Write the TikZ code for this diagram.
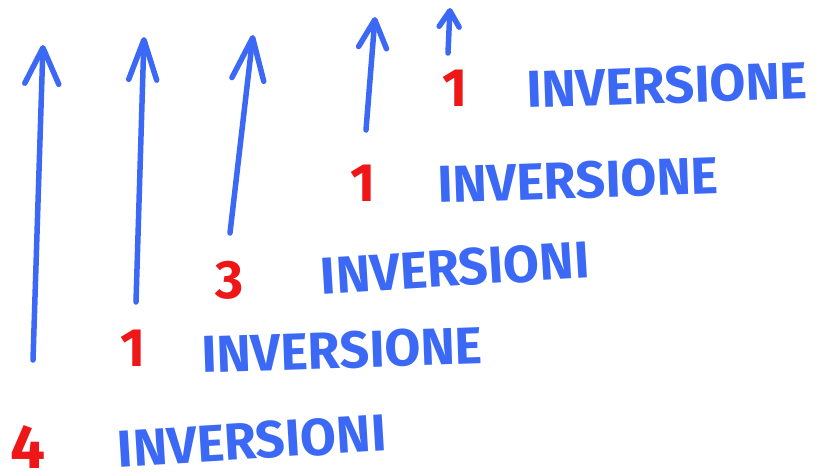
\documentclass[tikz,border=0pt]{standalone}
\usepackage{fontspec}
\setmainfont{Fira Sans}
\usetikzlibrary{arrows.meta}
\definecolor{penblue}{RGB}{59,105,245}
\definecolor{penred}{RGB}{238,22,22}
\tikzset{
  shaft/.style={penblue, line width=5.5pt, line cap=round},
  word/.style={penblue, font=\bfseries\fontsize{52}{60}\selectfont, inner sep=0pt},
  count/.style={penred, font=\bfseries\fontsize{54}{60}\selectfont, inner sep=0pt},
}
\begin{document}
\begin{tikzpicture}[x=1pt, y=-1pt]
  \useasboundingbox (0,0) rectangle (823,475);
  % frecce, dal basso verso l'alto
  \foreach \n/\xa/\ya/\xb/\yb/\hl/\hw in {1/33/360/43/45/36pt/34pt,
      2/136/302/144/37/40pt/28pt, 3/230/233/253/35/42pt/32pt,
      4/366/130/375/17/28pt/28pt, 5/448/53/450/8/16pt/20pt}{
    \coordinate (b\n) at (\xa,\ya);
    \coordinate (t\n) at (\xb,\yb);
    \draw[shaft, -{Straight Barb[length=\hl, width=\hw, line cap=round, line join=round]}] (b\n) -- (t\n);
  }
  % numeri rossi
  \node[count, font=\bfseries\fontsize{62}{70}\selectfont] (n1) at (28,447) {4};
  \node[count] (n2) at (133,348) {1};
  \node[count] (n3) at (230,280) {3};
  \node[count] (n4) at (363,183) {1};
  \node[count] (n5) at (455,88) {1};
  % scritte
  \node[word, rotate=3.5] (w1) at (252,441) {INVERSIONI};
  \node[word, rotate=2] (w2) at (342,350) {INVERSIONE};
  \node[word, rotate=3.5] (w3) at (455,268) {INVERSIONI};
  \node[word, rotate=2] (w4) at (578,180) {INVERSIONE};
  \node[word, rotate=2] (w5) at (667,85) {INVERSIONE};
\end{tikzpicture}
\end{document}
